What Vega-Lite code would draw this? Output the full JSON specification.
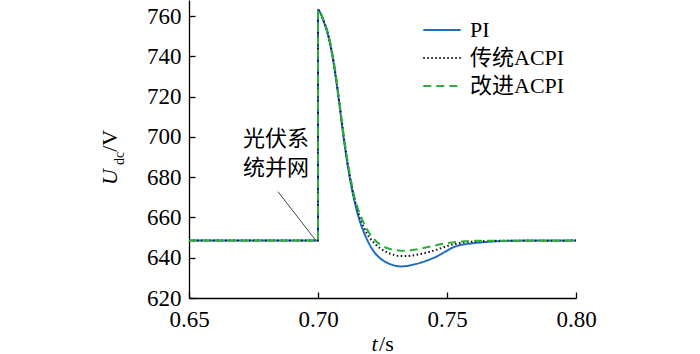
{
  "$schema": "https://vega.github.io/schema/vega-lite/v6.json",
  "width": 387,
  "height": 298,
  "autosize": {"type": "none"},
  "padding": {"left": 189, "top": 0, "right": 124, "bottom": 56},
  "background": "white",
  "config": {
    "view": {"stroke": null},
    "font": "Liberation Serif",
    "axis": {
      "domainColor": "black",
      "domainWidth": 1.3,
      "tickColor": "black",
      "tickWidth": 1.3,
      "tickSize": -6,
      "labelFont": "Liberation Serif",
      "labelFontSize": 23,
      "labelColor": "black",
      "labelFlush": false,
      "labelOverlap": false,
      "grid": false,
      "title": null
    }
  },
  "datasets": {
    "curves": [
      {"s": "PI", "o": 0, "t": 0.65, "v": 648.5},
      {"s": "PI", "o": 1, "t": 0.7, "v": 648.5},
      {"s": "PI", "o": 2, "t": 0.7, "v": 763},
      {"s": "PI", "o": 3, "t": 0.7005, "v": 762.5},
      {"s": "PI", "o": 4, "t": 0.702, "v": 758},
      {"s": "PI", "o": 5, "t": 0.704, "v": 750},
      {"s": "PI", "o": 6, "t": 0.706, "v": 737},
      {"s": "PI", "o": 7, "t": 0.708, "v": 719},
      {"s": "PI", "o": 8, "t": 0.71, "v": 699},
      {"s": "PI", "o": 9, "t": 0.712, "v": 682},
      {"s": "PI", "o": 10, "t": 0.714, "v": 669},
      {"s": "PI", "o": 11, "t": 0.716, "v": 659},
      {"s": "PI", "o": 12, "t": 0.718, "v": 652},
      {"s": "PI", "o": 13, "t": 0.72, "v": 646.5},
      {"s": "PI", "o": 14, "t": 0.722, "v": 642.5},
      {"s": "PI", "o": 15, "t": 0.724, "v": 639.8},
      {"s": "PI", "o": 16, "t": 0.726, "v": 638},
      {"s": "PI", "o": 17, "t": 0.728, "v": 636.8},
      {"s": "PI", "o": 18, "t": 0.73, "v": 636},
      {"s": "PI", "o": 19, "t": 0.732, "v": 635.7},
      {"s": "PI", "o": 20, "t": 0.734, "v": 635.8},
      {"s": "PI", "o": 21, "t": 0.736, "v": 636.3},
      {"s": "PI", "o": 22, "t": 0.738, "v": 636.9},
      {"s": "PI", "o": 23, "t": 0.74, "v": 637.6},
      {"s": "PI", "o": 24, "t": 0.742, "v": 638.5},
      {"s": "PI", "o": 25, "t": 0.744, "v": 639.5},
      {"s": "PI", "o": 26, "t": 0.746, "v": 640.6},
      {"s": "PI", "o": 27, "t": 0.748, "v": 642},
      {"s": "PI", "o": 28, "t": 0.75, "v": 643.5},
      {"s": "PI", "o": 29, "t": 0.752, "v": 644.9},
      {"s": "PI", "o": 30, "t": 0.754, "v": 645.9},
      {"s": "PI", "o": 31, "t": 0.756, "v": 646.5},
      {"s": "PI", "o": 32, "t": 0.76, "v": 647.2},
      {"s": "PI", "o": 33, "t": 0.765, "v": 647.8},
      {"s": "PI", "o": 34, "t": 0.77, "v": 648.2},
      {"s": "PI", "o": 35, "t": 0.78, "v": 648.5},
      {"s": "PI", "o": 36, "t": 0.8, "v": 648.5},

      {"s": "传统ACPI", "o": 0, "t": 0.65, "v": 648.5},
      {"s": "传统ACPI", "o": 1, "t": 0.7, "v": 648.5},
      {"s": "传统ACPI", "o": 2, "t": 0.7, "v": 763},
      {"s": "传统ACPI", "o": 3, "t": 0.7005, "v": 762.6},
      {"s": "传统ACPI", "o": 4, "t": 0.702, "v": 758.3},
      {"s": "传统ACPI", "o": 5, "t": 0.704, "v": 750.5},
      {"s": "传统ACPI", "o": 6, "t": 0.706, "v": 737.8},
      {"s": "传统ACPI", "o": 7, "t": 0.708, "v": 720},
      {"s": "传统ACPI", "o": 8, "t": 0.71, "v": 700},
      {"s": "传统ACPI", "o": 9, "t": 0.712, "v": 683},
      {"s": "传统ACPI", "o": 10, "t": 0.714, "v": 670},
      {"s": "传统ACPI", "o": 11, "t": 0.716, "v": 661},
      {"s": "传统ACPI", "o": 12, "t": 0.718, "v": 654.5},
      {"s": "传统ACPI", "o": 13, "t": 0.72, "v": 650},
      {"s": "传统ACPI", "o": 14, "t": 0.722, "v": 647},
      {"s": "传统ACPI", "o": 15, "t": 0.724, "v": 644.8},
      {"s": "传统ACPI", "o": 16, "t": 0.726, "v": 643.2},
      {"s": "传统ACPI", "o": 17, "t": 0.728, "v": 642},
      {"s": "传统ACPI", "o": 18, "t": 0.73, "v": 641.2},
      {"s": "传统ACPI", "o": 19, "t": 0.732, "v": 640.8},
      {"s": "传统ACPI", "o": 20, "t": 0.734, "v": 640.8},
      {"s": "传统ACPI", "o": 21, "t": 0.736, "v": 641},
      {"s": "传统ACPI", "o": 22, "t": 0.738, "v": 641.4},
      {"s": "传统ACPI", "o": 23, "t": 0.74, "v": 641.9},
      {"s": "传统ACPI", "o": 24, "t": 0.742, "v": 642.5},
      {"s": "传统ACPI", "o": 25, "t": 0.744, "v": 643.2},
      {"s": "传统ACPI", "o": 26, "t": 0.746, "v": 644},
      {"s": "传统ACPI", "o": 27, "t": 0.748, "v": 644.9},
      {"s": "传统ACPI", "o": 28, "t": 0.75, "v": 645.8},
      {"s": "传统ACPI", "o": 29, "t": 0.752, "v": 646.5},
      {"s": "传统ACPI", "o": 30, "t": 0.755, "v": 647.3},
      {"s": "传统ACPI", "o": 31, "t": 0.76, "v": 648},
      {"s": "传统ACPI", "o": 32, "t": 0.77, "v": 648.4},
      {"s": "传统ACPI", "o": 33, "t": 0.8, "v": 648.5},

      {"s": "改进ACPI", "o": 0, "t": 0.65, "v": 648.5},
      {"s": "改进ACPI", "o": 1, "t": 0.7, "v": 648.5},
      {"s": "改进ACPI", "o": 2, "t": 0.7, "v": 763},
      {"s": "改进ACPI", "o": 3, "t": 0.7005, "v": 762.7},
      {"s": "改进ACPI", "o": 4, "t": 0.702, "v": 758.5},
      {"s": "改进ACPI", "o": 5, "t": 0.704, "v": 751},
      {"s": "改进ACPI", "o": 6, "t": 0.706, "v": 738.5},
      {"s": "改进ACPI", "o": 7, "t": 0.708, "v": 720.5},
      {"s": "改进ACPI", "o": 8, "t": 0.71, "v": 700.5},
      {"s": "改进ACPI", "o": 9, "t": 0.712, "v": 684},
      {"s": "改进ACPI", "o": 10, "t": 0.714, "v": 671},
      {"s": "改进ACPI", "o": 11, "t": 0.716, "v": 662.5},
      {"s": "改进ACPI", "o": 12, "t": 0.718, "v": 656.5},
      {"s": "改进ACPI", "o": 13, "t": 0.72, "v": 652},
      {"s": "改进ACPI", "o": 14, "t": 0.722, "v": 648.8},
      {"s": "改进ACPI", "o": 15, "t": 0.724, "v": 646.6},
      {"s": "改进ACPI", "o": 16, "t": 0.726, "v": 645.2},
      {"s": "改进ACPI", "o": 17, "t": 0.728, "v": 644.3},
      {"s": "改进ACPI", "o": 18, "t": 0.73, "v": 643.8},
      {"s": "改进ACPI", "o": 19, "t": 0.732, "v": 643.5},
      {"s": "改进ACPI", "o": 20, "t": 0.734, "v": 643.5},
      {"s": "改进ACPI", "o": 21, "t": 0.736, "v": 643.7},
      {"s": "改进ACPI", "o": 22, "t": 0.738, "v": 644.1},
      {"s": "改进ACPI", "o": 23, "t": 0.74, "v": 644.6},
      {"s": "改进ACPI", "o": 24, "t": 0.744, "v": 645.7},
      {"s": "改进ACPI", "o": 25, "t": 0.748, "v": 646.8},
      {"s": "改进ACPI", "o": 26, "t": 0.752, "v": 647.6},
      {"s": "改进ACPI", "o": 27, "t": 0.756, "v": 648.1},
      {"s": "改进ACPI", "o": 28, "t": 0.76, "v": 648.4},
      {"s": "改进ACPI", "o": 29, "t": 0.8, "v": 648.5}
    ],
    "note": [
      {"label": "光伏系", "t": 0.6837, "v": 698.9},
      {"label": "统并网", "t": 0.6837, "v": 684.5}
    ],
    "pointer": [
      {"t": 0.6845, "v": 672.8, "t2": 0.6992, "v2": 648.5}
    ],
    "ytitleU": [
      {"piece": "U", "t": 0.6221, "v": 676.1}
    ],
    "ytitleV": [
      {"piece": "/V", "t": 0.6221, "v": 692.6}
    ],
    "ysub": [
      {"piece": "dc", "t": 0.6248, "v": 686.0}
    ],
    "xtitle": [
      {"piece": "t", "t": 0.72078, "v": 593.5}
    ],
    "xtitle2": [
      {"piece": "/s", "t": 0.72365, "v": 593.5}
    ]
  },
  "layer": [
    {
      "data": {"name": "curves"},
      "mark": {"type": "line", "interpolate": "monotone", "strokeWidth": 2},
      "encoding": {
        "x": {
          "field": "t", "type": "quantitative",
          "scale": {"domain": [0.65, 0.8], "nice": false, "zero": false},
          "axis": {"values": [0.65, 0.7, 0.75, 0.8], "format": ".2f", "labelPadding": 16, "labelFlush": false}
        },
        "y": {
          "field": "v", "type": "quantitative",
          "scale": {"domain": [620, 768], "nice": false, "zero": false},
          "axis": {"values": [620, 640, 660, 680, 700, 720, 740, 760], "labelPadding": 14, "labelFlush": false}
        },
        "order": {"field": "o", "type": "quantitative"},
        "color": {
          "field": "s", "type": "nominal",
          "scale": {"domain": ["PI", "传统ACPI", "改进ACPI"], "range": ["#1f6fc0", "#111111", "#2fae3a"]},
          "legend": {
            "orient": "none",
            "legendX": 233,
            "legendY": 16,
            "title": null,
            "symbolType": "stroke",
            "symbolSize": 1400,
            "symbolStrokeWidth": 2,
            "labelFont": "Liberation Serif, Noto Sans CJK SC",
            "labelFontSize": 22,
            "labelColor": "black",
            "labelOffset": 8,
            "rowPadding": 0,
            "clipHeight": 28,
            "labelLimit": 300
          }
        },
        "strokeDash": {
          "field": "s", "type": "nominal",
          "scale": {"domain": ["PI", "传统ACPI", "改进ACPI"], "range": [[1, 0], [1.5, 2.5], [8, 5]]},
          "legend": null
        }
      }
    },
    {
      "data": {"name": "pointer"},
      "mark": {"type": "rule", "color": "#444444", "strokeWidth": 1},
      "encoding": {
        "x": {"field": "t", "type": "quantitative"},
        "y": {"field": "v", "type": "quantitative"},
        "x2": {"field": "t2"},
        "y2": {"field": "v2"}
      }
    },
    {
      "data": {"name": "note"},
      "mark": {"type": "text", "font": "Noto Sans CJK SC", "fontSize": 22, "align": "center", "baseline": "middle", "color": "black"},
      "encoding": {
        "x": {"field": "t", "type": "quantitative"},
        "y": {"field": "v", "type": "quantitative"},
        "text": {"field": "label"}
      }
    },
    {
      "data": {"name": "ytitleU"},
      "mark": {"type": "text", "font": "Liberation Serif", "fontSize": 22, "fontStyle": "italic", "angle": 270, "align": "left", "baseline": "alphabetic", "color": "black"},
      "encoding": {
        "x": {"field": "t", "type": "quantitative"},
        "y": {"field": "v", "type": "quantitative"},
        "text": {"field": "piece"}
      }
    },
    {
      "data": {"name": "ytitleV"},
      "mark": {"type": "text", "font": "Liberation Serif", "fontSize": 22, "angle": 270, "align": "left", "baseline": "alphabetic", "color": "black"},
      "encoding": {
        "x": {"field": "t", "type": "quantitative"},
        "y": {"field": "v", "type": "quantitative"},
        "text": {"field": "piece"}
      }
    },
    {
      "data": {"name": "ysub"},
      "mark": {"type": "text", "font": "Liberation Serif", "fontSize": 14, "angle": 270, "align": "left", "baseline": "alphabetic", "color": "black"},
      "encoding": {
        "x": {"field": "t", "type": "quantitative"},
        "y": {"field": "v", "type": "quantitative"},
        "text": {"field": "piece"}
      }
    },
    {
      "data": {"name": "xtitle"},
      "mark": {"type": "text", "font": "Liberation Serif", "fontSize": 22, "align": "left", "baseline": "alphabetic", "color": "black", "fontStyle": "italic"},
      "encoding": {
        "x": {"field": "t", "type": "quantitative"},
        "y": {"field": "v", "type": "quantitative"},
        "text": {"field": "piece"}
      }
    },
    {
      "data": {"name": "xtitle2"},
      "mark": {"type": "text", "font": "Liberation Serif", "fontSize": 22, "align": "left", "baseline": "alphabetic", "color": "black"},
      "encoding": {
        "x": {"field": "t", "type": "quantitative"},
        "y": {"field": "v", "type": "quantitative"},
        "text": {"field": "piece"}
      }
    }
  ]
}
